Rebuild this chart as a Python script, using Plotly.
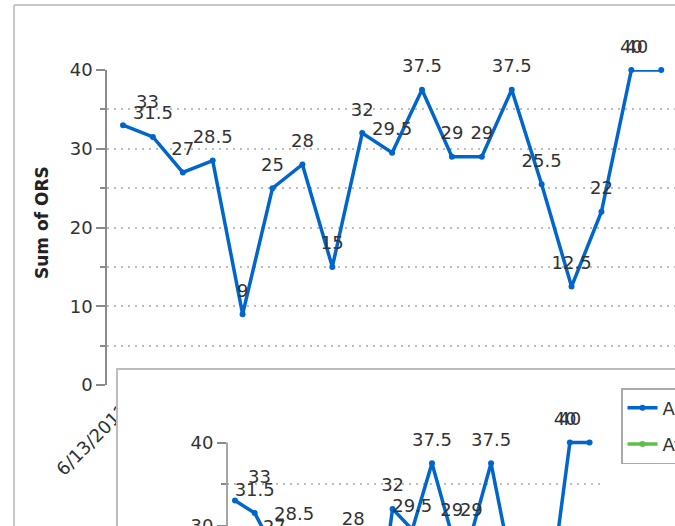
import plotly.graph_objects as go

# ---------------- data ----------------
dates = ["6/13/2012", "6/14/2012", "6/15/2012", "6/16/2012", "6/17/2012",
         "6/18/2012", "6/19/2012", "6/20/2012", "6/21/2012", "6/22/2012",
         "6/23/2012", "6/24/2012", "6/25/2012", "6/26/2012", "6/27/2012",
         "6/28/2012", "6/29/2012", "6/30/2012", "7/1/2012"]
ors_sum = [33, 31.5, 27, 28.5, 9, 25, 28, 15, 32, 29.5,
           37.5, 29, 29, 37.5, 25.5, 12.5, 22, 40, 40]
other_dates = [dates[0]]
other_values = [None]          # second series: no visible values in the picture
y_tick_values = [0, 10, 20, 30, 40]
series_names = ["Actual ORS", "Average ORS"]
y_title = "Sum of ORS"

# ---------------- styling ----------------
W, H = 675, 526
BLUE = "#0066cc"
GREEN = "#5cc04a"
TXT = "#333333"
AXC = "#8a8a8a"
GRIDC = "#bdbdbd"
FONT = "DejaVu Sans"
label_positions = ["top right"] + ["top center"] * (len(ors_sum) - 2) + ["top left"]
labels = [f"{v:g}" for v in ors_sum]


def fx(px):
    return px / W


def fy(px):
    return 1 - px / H


# inset vertical scale
inset_ppu = 8.3
inset_y40 = 442.5
inset_top = 400
inset_lo = 40 - (H - inset_y40) / inset_ppu
inset_hi = 40 + (inset_y40 - inset_top) / inset_ppu

fig = go.Figure()

# main chart
fig.add_trace(go.Scatter(
    x=dates, y=ors_sum, mode="lines+markers", xaxis="x", yaxis="y",
    line=dict(color=BLUE, width=3.5), marker=dict(color=BLUE, size=6),
    cliponaxis=False, showlegend=False, hoverinfo="skip"))
fig.add_trace(go.Scatter(
    x=dates, y=ors_sum, mode="markers+text", xaxis="x", yaxis="y",
    text=labels, textposition=label_positions,
    textfont=dict(family=FONT, size=18, color=TXT),
    marker=dict(size=19.2, color="rgba(0,0,0,0)"),
    cliponaxis=False, showlegend=False, hoverinfo="skip"))

# inset frame (empty subplot acting as the white box)
fig.add_trace(go.Scatter(x=[], y=[], xaxis="x2", yaxis="y2",
                         showlegend=False, hoverinfo="skip"))

# inset chart
fig.add_trace(go.Scatter(
    x=dates, y=ors_sum, mode="lines+markers", xaxis="x3", yaxis="y3",
    name=series_names[0], legendgroup="a",
    line=dict(color=BLUE, width=3.5), marker=dict(color=BLUE, size=6),
    hoverinfo="skip"))
fig.add_trace(go.Scatter(
    x=dates, y=ors_sum, mode="markers+text", xaxis="x3", yaxis="y3",
    text=labels, textposition=label_positions,
    textfont=dict(family=FONT, size=18, color=TXT),
    marker=dict(size=19.2, color="rgba(0,0,0,0)"),
    showlegend=False, hoverinfo="skip"))
fig.add_trace(go.Scatter(
    x=other_dates, y=other_values, mode="lines+markers", xaxis="x3", yaxis="y3",
    name=series_names[1], legendgroup="b",
    line=dict(color=GREEN, width=3.5), marker=dict(color=GREEN, size=6),
    hoverinfo="skip"))

grid_common = dict(gridcolor=GRIDC, griddash="2px,5px", gridwidth=1.5)

fig.update_layout(
    width=W, height=H,
    margin=dict(l=0, r=0, t=0, b=0, pad=0, autoexpand=False),
    paper_bgcolor="white", plot_bgcolor="white",
    font=dict(family=FONT, size=18, color=TXT),
    xaxis=dict(domain=[fx(107), 1], anchor="y", type="category",
               range=[-0.535, 18.46], tickangle=-45, ticks="",
               tickmode="linear", tick0=0, dtick=2, ticklabelstandoff=10,
               showgrid=False, zeroline=False, showline=False,
               tickfont=dict(size=18, color=TXT)),
    yaxis=dict(domain=[fy(385), fy(70)], anchor="x", range=[0, 40],
               tickmode="array", tickvals=y_tick_values,
               ticks="outside", ticklen=9, tickwidth=1.5, tickcolor=AXC,
               showline=True, linecolor=AXC, linewidth=1.5,
               showgrid=True, zeroline=False, **grid_common,
               minor=dict(dtick=5, tick0=0, ticks="outside", ticklen=5,
                          tickwidth=1.5, tickcolor=AXC, showgrid=True,
                          **grid_common),
               tickfont=dict(size=18, color=TXT)),
    xaxis2=dict(domain=[fx(118), 1], anchor="y2", side="top", range=[0, 1],
                showline=True, linecolor="#bcbcbc", linewidth=1.5,
                showticklabels=False, ticks="", showgrid=False, zeroline=False),
    yaxis2=dict(domain=[0, fy(370)], anchor="x2", range=[0, 1],
                showline=True, linecolor="#bcbcbc", linewidth=1.5,
                showticklabels=False, ticks="", showgrid=False, zeroline=False),
    xaxis3=dict(domain=[fx(227), fx(600)], anchor="y3", type="category",
                range=[-0.406, 18.53], showticklabels=False, ticks="",
                showgrid=False, zeroline=False, showline=False),
    yaxis3=dict(domain=[0, fy(inset_top)], anchor="x3",
                range=[inset_lo, inset_hi],
                tickmode="array", tickvals=[30, 40], ticklabeloverflow="allow",
                ticks="outside", ticklen=9, tickwidth=1.5, tickcolor=AXC,
                showline=False, showgrid=False, zeroline=False,
                minor=dict(tickmode="array", tickvals=[35], ticks="outside",
                           ticklen=5, tickwidth=1.5, tickcolor=AXC,
                           showgrid=True, **grid_common),
                tickfont=dict(size=18, color=TXT)),
    legend=dict(x=fx(621), y=fy(388), xanchor="left", yanchor="top",
                bgcolor="white", bordercolor="#aaaaaa", borderwidth=1.5,
                font=dict(family=FONT, size=18, color=TXT),
                traceorder="grouped", tracegroupgap=10),
    showlegend=True,
)

fig.add_annotation(text=f"<b>{y_title}</b>", xref="paper", yref="paper",
                   x=fx(42), y=fy(223), xanchor="center", yanchor="middle",
                   textangle=-90, showarrow=False,
                   font=dict(family=FONT, size=17, color="#222222"))

# inset y axis line (from 40 down)
fig.add_shape(type="line", xref="x3 domain", yref="y3 domain",
              x0=0, x1=0, y0=0, y1=(40 - inset_lo) / (inset_hi - inset_lo),
              line=dict(color=AXC, width=1.5))

# outer screenshot frame
fig.add_shape(type="line", xref="paper", yref="paper",
              x0=fx(14), x1=1, y0=fy(5), y1=fy(5),
              line=dict(color="#c8c8c8", width=2))
fig.add_shape(type="line", xref="paper", yref="paper",
              x0=fx(14), x1=fx(14), y0=fy(5), y1=0,
              line=dict(color="#c8c8c8", width=2))

fig.write_html("out.html", config={"displayModeBar": False},
               post_script="document.body.style.margin='0';document.body.style.overflow='hidden';")
